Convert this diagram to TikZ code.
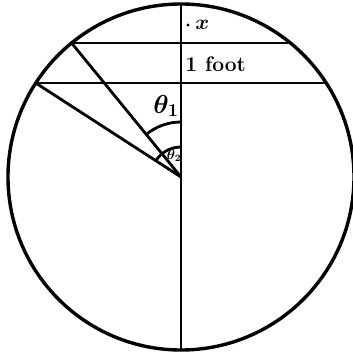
\RequirePackage{fix-cm}
\documentclass[tikz,border=0pt]{standalone}
\usepackage{amsmath,amssymb}
\usetikzlibrary{calc}
\begin{document}
\begin{tikzpicture}[x=1pt,y=1pt,line width=2.8pt]
\useasboundingbox (-181,-176) rectangle (172,177);
\tikzset{lab/.style={font=\fontsize{21}{24}\selectfont\bfseries,inner sep=0pt}}

\coordinate (O) at (0,0);
\coordinate (T) at (90:173);
\coordinate (B) at (-90:173);
\coordinate (P1) at (129.23:173);
\coordinate (Q1) at (50.77:173);
\coordinate (P2) at (147.09:173);
\coordinate (Q2) at (32.91:173);

\draw[line width=3.4pt] (O) circle (173);
\draw (T) -- (B);
\draw (P1) -- (Q1);
\draw (P2) -- (Q2);
\draw (O) -- (P1);
\draw (O) -- (P2);

\draw (0,55) arc (90:129.23:55);
\draw (0,30) arc (90:147.09:30);

\node[lab,font=\fontsize{26}{28}\selectfont] (th1) at (-15,71) {$\boldsymbol{\theta_1}$};
\node[lab,font=\fontsize{14}{16}\selectfont] (th2) at (-7,21) {$\boldsymbol{\theta_2}$};
\node[lab,anchor=west] (foot) at (3,113) {1 foot};
\node[circle,fill,inner sep=1.1pt] (xdot) at (7,152) {};
\node[lab,anchor=west] (xlab) at ([xshift=3pt]xdot.east) {$\boldsymbol{x}$};
\end{tikzpicture}
\end{document}
